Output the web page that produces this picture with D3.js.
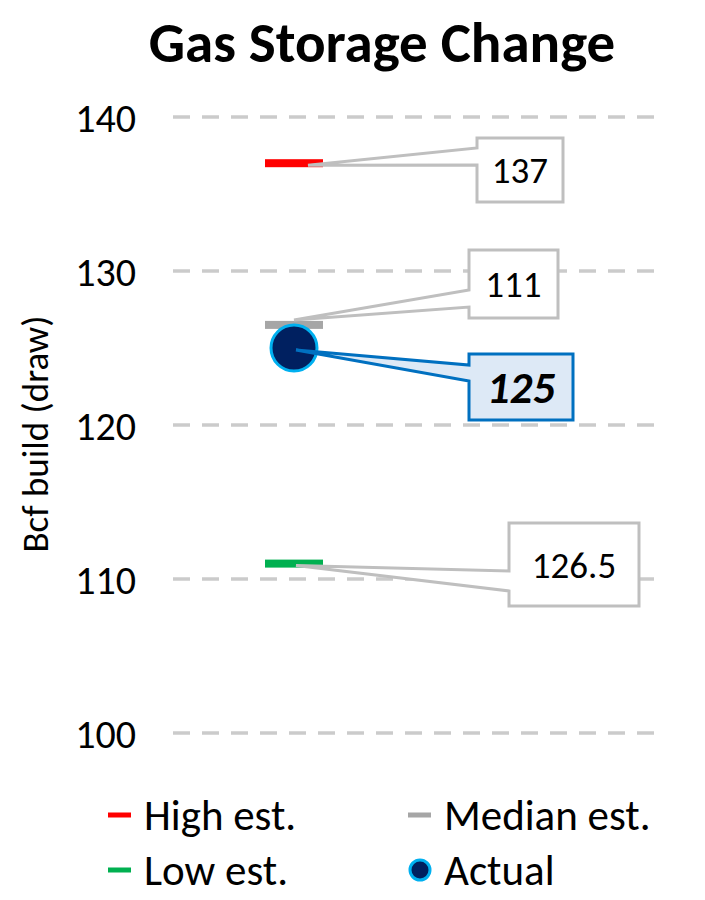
<!DOCTYPE html>
<html><head><meta charset="utf-8">
<script src="https://cdn.jsdelivr.net/npm/d3@7"></script>
<style>body{margin:0;background:#fff}text{font-family:Carlito,Lato,"Liberation Sans",sans-serif}</style>
</head><body><svg id="c" width="705" height="900"></svg>
<script>
const categories = ["Week"];
const seriesNames = ["High est.", "Median est.", "Low est.", "Actual"];
const seriesValues = [137, 126.5, 111, 125];
const seriesColors = ["#ff0000", "#a6a6a6", "#00b050", "#002060"];
const calloutLabels = ["137", "111", "126.5", "125"];
const yTicks = [100, 110, 120, 130, 140];

const svg = d3.select("#c");
const y = d3.scaleLinear().domain([100, 140]).range([733, 117]);
const x = d3.scaleBand().domain(categories).range([173, 415]);

// title
svg.append("text").attr("x", 382).attr("y", 62).attr("text-anchor", "middle")
  .attr("font-size", 57).attr("font-weight", "bold").text("Gas Storage Change");

// grid
svg.append("g").selectAll("line").data(yTicks).join("line")
  .attr("x1", 173).attr("x2", 656).attr("y1", d => y(d)).attr("y2", d => y(d))
  .attr("stroke", "#cbcbcb").attr("stroke-width", 3.5).attr("stroke-dasharray", "17,12");

// y axis
const ax = svg.append("g").attr("transform", "translate(150,0)")
  .call(d3.axisLeft(y).tickValues(yTicks).tickSize(0).tickPadding(14));
ax.select(".domain").remove();
ax.selectAll("text").attr("font-size", 40).attr("fill", "#000")
  .attr("font-family", "Carlito,Lato,'Liberation Sans',sans-serif").attr("dy", "0.35em");

svg.append("text").attr("transform", "translate(48,434) rotate(-90)")
  .attr("text-anchor", "middle").attr("font-size", 37).text("Bcf build (draw)");

const cx = x("Week") + x.bandwidth() / 2;

// callouts (box geometry)
const boxes = [
  {i: 0, bx: 477, by: 138, bw: 86, bh: 64, w1: 148, w2: 165, fill: "#fff", stroke: "#bfbfbf", lab: 0, tipDx: 14},
  {i: 1, bx: 469, by: 250, bw: 89, bh: 68, w1: 290, w2: 307, fill: "#fff", stroke: "#bfbfbf", lab: 1, tipDx: 0},
  {i: 2, bx: 509, by: 523, bw: 130, bh: 83, w1: 571, w2: 591, fill: "#fff", stroke: "#bfbfbf", lab: 2, tipDx: 2},
  {i: 3, bx: 469, by: 354, bw: 104, bh: 66, w1: 365, w2: 381, fill: "#dde9f6", stroke: "#0070c0", lab: 3, tipDx: 2}
];
boxes.forEach(b => {
  const tx = cx + b.tipDx, ty = y(seriesValues[b.i]) + (b.i === 1 ? -5 : 2);
  b.path = `M${b.bx},${b.by} L${b.bx + b.bw},${b.by} L${b.bx + b.bw},${b.by + b.bh} L${b.bx},${b.by + b.bh} L${b.bx},${b.w2} L${tx},${ty} L${b.bx},${b.w1} Z`;
});

// estimate bars
const bars = [0, 1, 2];
svg.append("g").selectAll("rect").data(bars).join("rect")
  .attr("x", cx - 29).attr("width", 58)
  .attr("y", d => y(seriesValues[d]) - 4).attr("height", 8)
  .attr("fill", d => seriesColors[d]);

const cg = svg.append("g");
boxes.filter(b => b.i !== 3).forEach(b => {
  cg.append("path").attr("d", b.path).attr("fill", b.fill).attr("stroke", b.stroke)
    .attr("stroke-width", 3);
  cg.append("text").attr("x", b.bx + b.bw / 2).attr("y", b.by + b.bh / 2).attr("dy", "0.36em")
    .attr("text-anchor", "middle").attr("font-size", 37).text(calloutLabels[b.lab]);
});

// actual point
svg.append("circle").attr("cx", cx).attr("cy", y(seriesValues[3])).attr("r", 23)
  .attr("fill", seriesColors[3]).attr("stroke", "#00b0f0").attr("stroke-width", 3);

boxes.filter(b => b.i === 3).forEach(b => {
  svg.append("path").attr("d", b.path).attr("fill", b.fill).attr("stroke", b.stroke).attr("stroke-width", 3);
  svg.append("text").attr("x", b.bx + b.bw / 2).attr("y", b.by + b.bh / 2).attr("dy", "0.36em")
    .attr("text-anchor", "middle").attr("font-size", 45).attr("font-weight", "bold")
    .attr("font-style", "italic").text(calloutLabels[b.lab]);
});

// legend
const leg = [
  {s: 0, x: 108, y: 815}, {s: 1, x: 408, y: 815},
  {s: 2, x: 108, y: 870}, {s: 3, x: 408, y: 870}
];
const lg = svg.append("g");
leg.forEach(l => {
  if (l.s === 3) {
    lg.append("circle").attr("cx", l.x + 12).attr("cy", l.y).attr("r", 10)
      .attr("fill", seriesColors[3]).attr("stroke", "#00b0f0").attr("stroke-width", 3);
  } else {
    lg.append("rect").attr("x", l.x).attr("y", l.y - 2.5).attr("width", 23).attr("height", 5)
      .attr("fill", seriesColors[l.s]);
  }
  lg.append("text").attr("x", l.x + 36).attr("y", l.y).attr("dy", "0.36em")
    .attr("font-size", 43).text(seriesNames[l.s]);
});
</script></body></html>
